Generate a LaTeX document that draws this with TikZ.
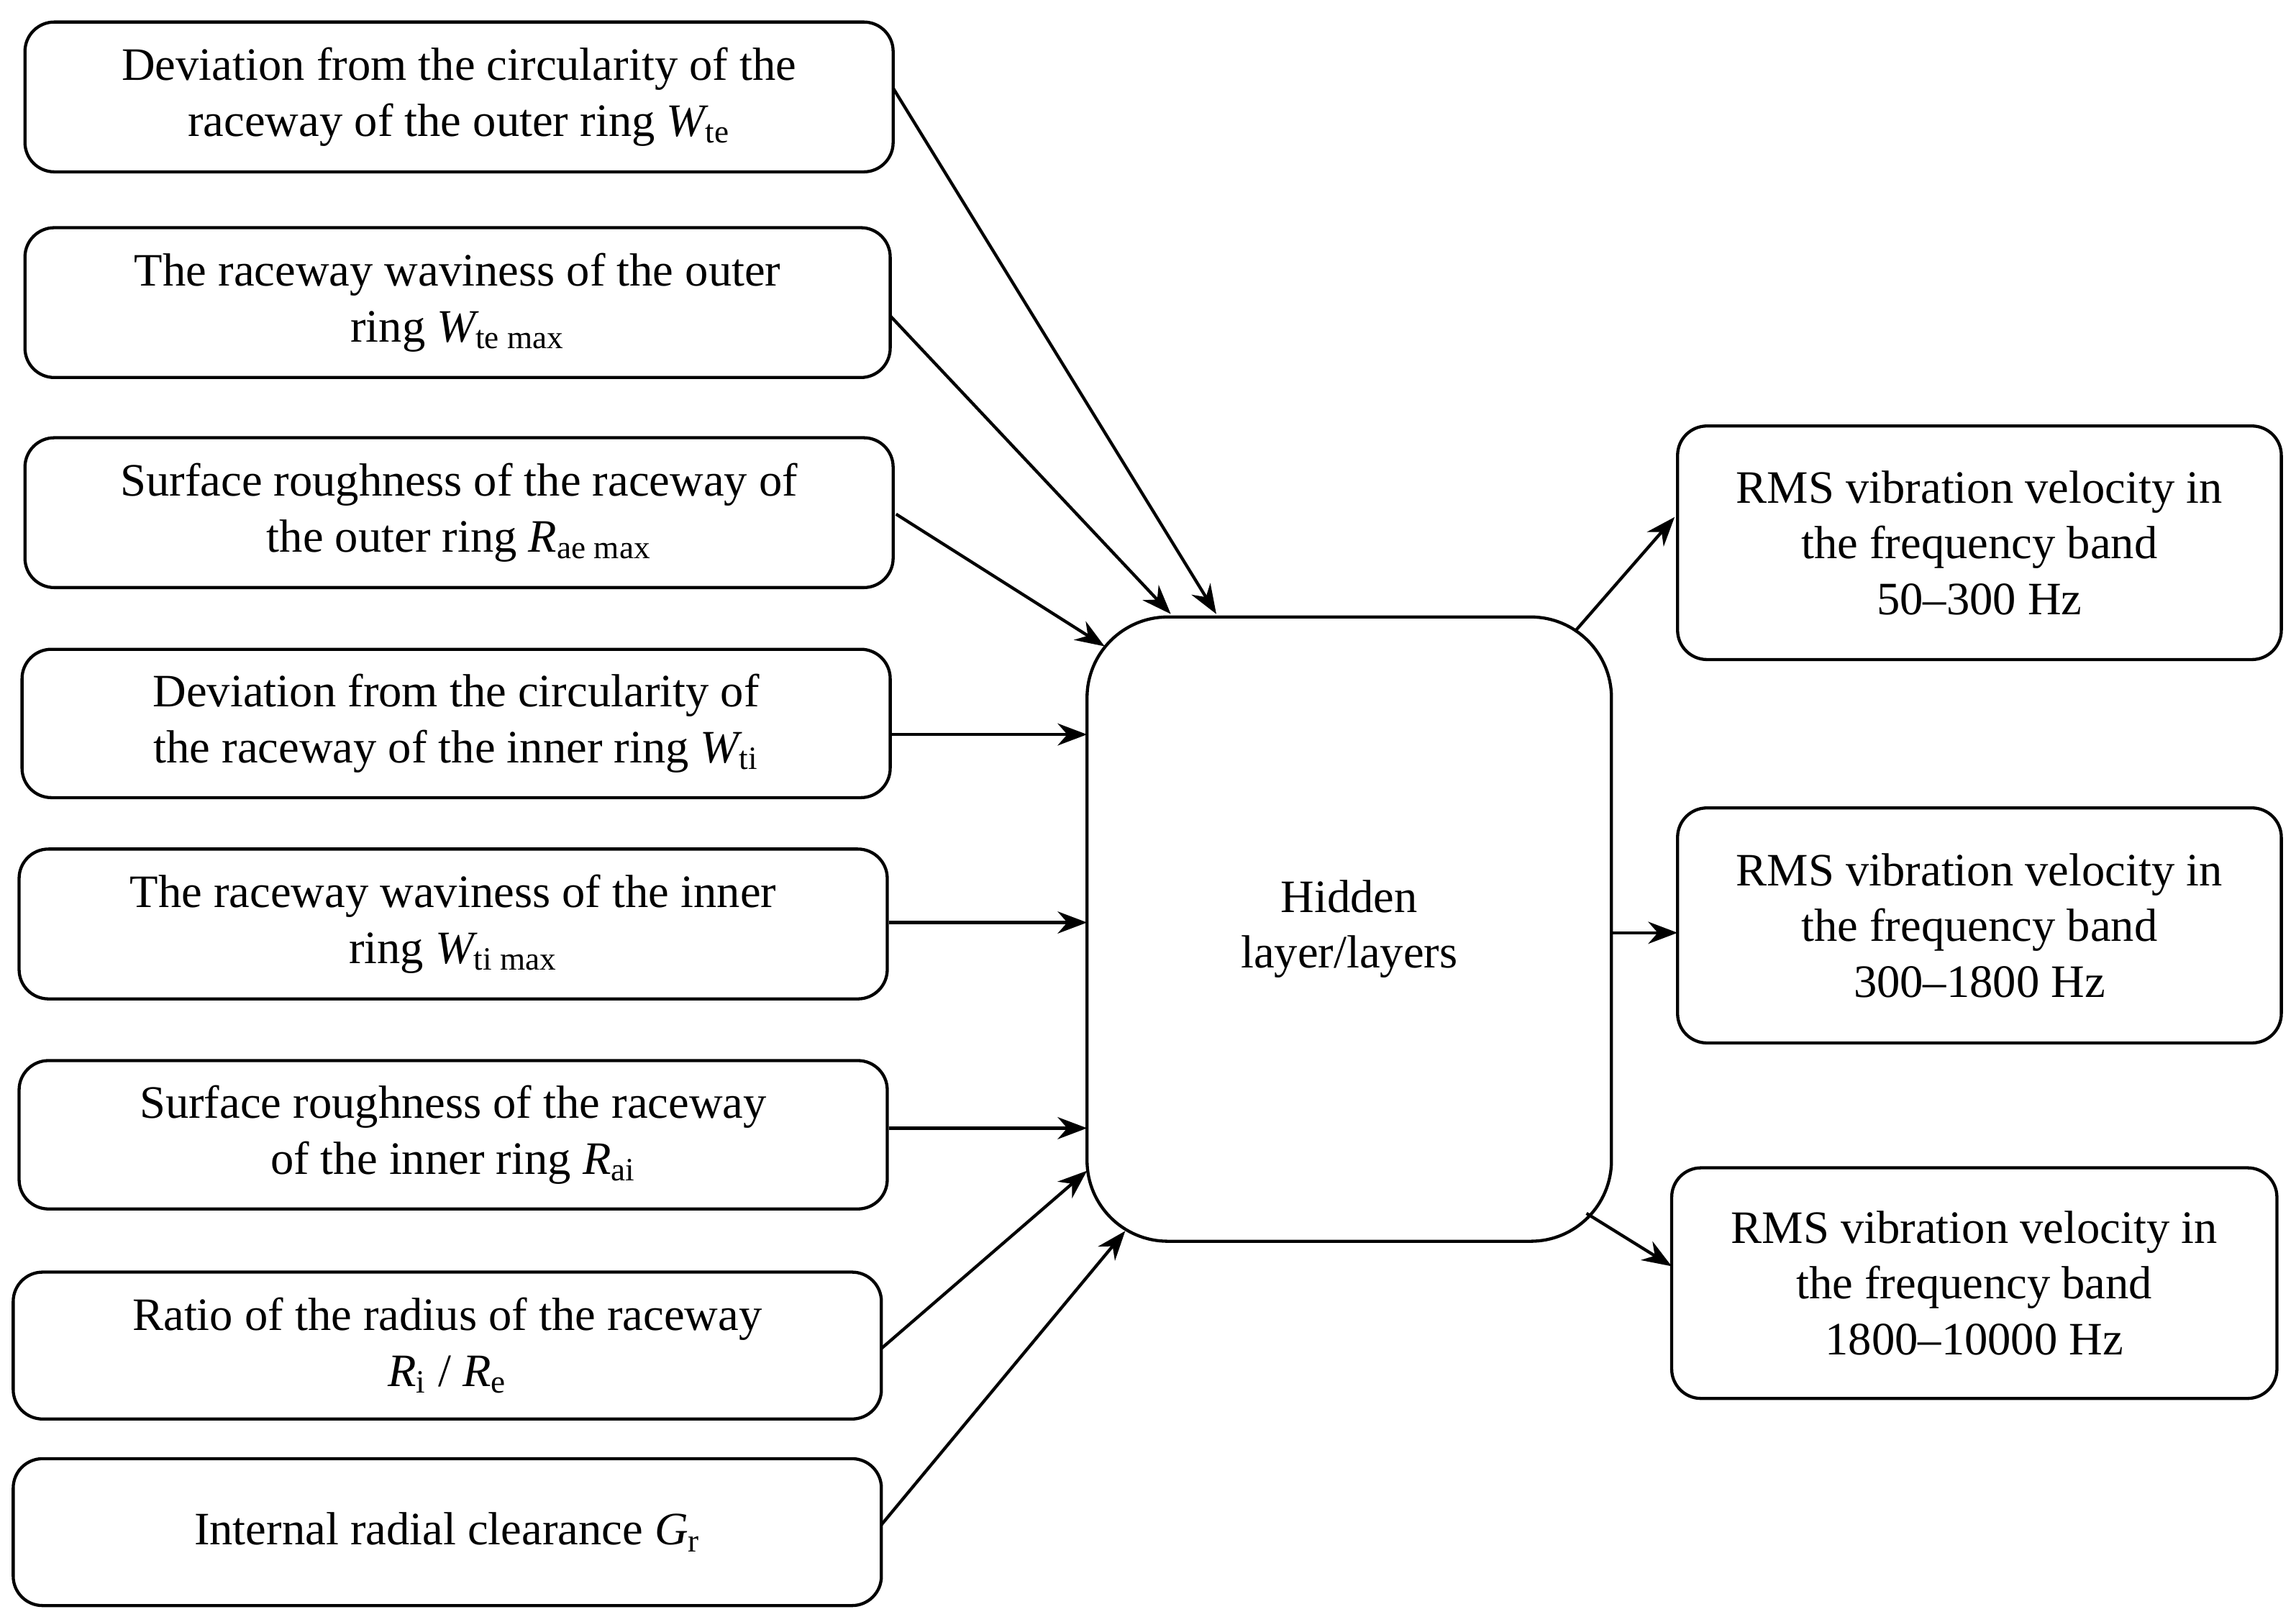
\documentclass[tikz,border=0pt]{standalone}
\usepackage{fontspec}
\setmainfont{Liberation Serif}
\usetikzlibrary{arrows.meta}
\newcommand{\vv}[2]{{\itshape #1}\textsubscript{#2}}
\begin{document}
\begin{tikzpicture}[x=0.02cm,y=-0.02cm,
 bx/.style={draw,line width=1.2pt,rounded corners=0.4cm,align=center,inner sep=0pt,font=\fontsize{18}{21.6}\selectfont},
 ar/.style={-{Stealth[length=0.4cm,width=0.3cm]},line width=1.2pt}]
\useasboundingbox (0,0) rectangle (1563,1104);
\fill[white] (0,0) rectangle (1563,1104);
\newcommand{\mybox}[6]{\node[bx,minimum width=#4*0.02cm - #2*0.02cm,minimum height=#5*0.02cm - #3*0.02cm] (#1) at ({(#2+#4)/2},{(#3+#5)/2}) {#6};}
\mybox{b1}{17}{15}{608}{117}{Deviation from the circularity of the\\raceway of the outer ring \vv{W}{te}}
\mybox{b2}{17}{155}{606}{257}{The raceway waviness of the outer\\ring \vv{W}{te max}}
\mybox{b3}{17}{298}{608}{400}{Surface roughness of the raceway of\\the outer ring \vv{R}{ae max}}
\mybox{b4}{15}{442}{606}{543}{Deviation from the circularity of\\the raceway of the inner ring \vv{W}{ti}}
\mybox{b5}{13}{578}{604}{680}{The raceway waviness of the inner\\ring \vv{W}{ti max}}
\mybox{b6}{13}{722}{604}{823}{Surface roughness of the raceway\\of the inner ring \vv{R}{ai}}
\mybox{b7}{9}{866}{600}{966}{Ratio of the radius of the raceway\\\vv{R}{i} / \vv{R}{e}}
\mybox{b8}{9}{993}{600}{1093}{Internal radial clearance \vv{G}{r}}
\node[bx,rounded corners=1.1cm,minimum width=357*0.02cm,minimum height=425*0.02cm] (h) at (918.5,632.5) {Hidden\\layer/layers};
\mybox{o1}{1142}{290}{1553}{449}{RMS vibration velocity in\\the frequency band\\50--300 Hz}
\mybox{o2}{1142}{550}{1553}{710}{RMS vibration velocity in\\the frequency band\\300--1800 Hz}
\mybox{o3}{1138}{795}{1550}{952}{RMS vibration velocity in\\the frequency band\\1800--10000 Hz}
\coordinate (s1) at (608,60); \coordinate (t1) at (828,418);
\coordinate (s2) at (606,215); \coordinate (t2) at (797,418);
\coordinate (s3) at (610,350); \coordinate (t3) at (752,440);
\coordinate (t4) at (740,500); \coordinate (t5) at (740,628); \coordinate (t6) at (740,768);
\coordinate (s7) at (600,918); \coordinate (t7) at (740,797);
\coordinate (s8) at (600,1038); \coordinate (t8) at (766,838);
\coordinate (u1) at (1072,430); \coordinate (v1) at (1140,352);
\coordinate (u2) at (1097,635); \coordinate (v2) at (1142,635);
\coordinate (u3) at (1080,826); \coordinate (v3) at (1138,862);
\draw[ar] (s1) -- (t1);
\draw[ar] (s2) -- (t2);
\draw[ar] (s3) -- (t3);
\draw[ar] (b4.east |- t4) -- (t4);
\draw[ar] (b5.east |- t5) -- (t5);
\draw[ar] (b6.east |- t6) -- (t6);
\draw[ar] (s7) -- (t7);
\draw[ar] (s8) -- (t8);
\draw[ar] (u1) -- (v1);
\draw[ar] (u2) -- (v2);
\draw[ar] (u3) -- (v3);
\end{tikzpicture}
\end{document}
